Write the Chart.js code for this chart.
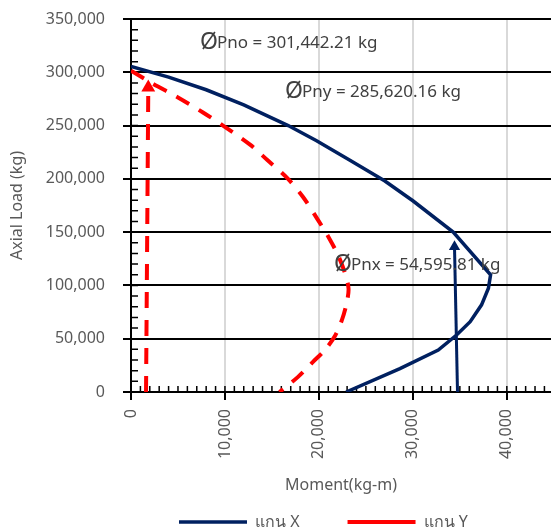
<!DOCTYPE html>
<html>
<head>
<meta charset="utf-8">
<title>Interaction diagram</title>
<script src="https://cdn.jsdelivr.net/npm/chart.js@4/dist/chart.umd.min.js"></script>
<style>
  html, body { margin: 0; padding: 0; background: #fff; overflow: hidden; }
  canvas { display: block; }
</style>
</head>
<body>
<canvas id="pmChart" width="551" height="530"></canvas>
<script>
// legend names
const seriesNames = ['แกน X', 'แกน Y'];

// curve about X : moment (kg-m) / axial load (kg)
const momentX = [0, 4000, 8000, 12000, 16730, 19750, 23300, 27020, 30030, 34290, 38270, 38040, 37310, 36100, 34650, 32700, 28620, 22900];
const loadX   = [305500, 295500, 283600, 269500, 250000, 235800, 217500, 198000, 179200, 150000, 110000, 97400, 81800, 66000, 53500, 39300, 22000, 0];

// curve about Y
const momentY = [0, 2340, 5000, 7660, 9790, 12670, 14480, 16610, 18310, 19910, 20970, 22040, 22780, 23150, 22990, 22460, 21720, 20650, 19370, 17780, 15800];
const loadY   = [301442, 289200, 276400, 262300, 250000, 232100, 217900, 200900, 183000, 161300, 146200, 128300, 111300, 97200, 84900, 67900, 52800, 39600, 28300, 14200, 0];

// arrows from the moment axis up to the design load
const arrowXMoment = [34750, 34430];
const arrowXLoad   = [0, 136300];
const arrowYMoment = [1600, 1840];
const arrowYLoad   = [0, 285620.16];

// notes written on the plot
const notePrefix = 'Ø';
const noteTexts  = ['Pno = 301,442.21 kg', 'Pny = 285,620.16 kg', 'Pnx = 54,595.81 kg'];
const noteMoment = [7350, 16400, 21600];
const noteLoad   = [322400, 276700, 114800];

// axis ticks
const xTicks = [0, 10000, 20000, 30000, 40000];
const yTicks = [0, 50000, 100000, 150000, 200000, 250000, 300000, 350000];
const xMinorStep = 1000;
const yMinorStep = 10000;

const NAVY = '#002060';
const RED = '#ff0000';
const FONT = '"Noto Sans", "DejaVu Sans", sans-serif';

function toPoints(xs, ys) {
  return xs.map((v, i) => ({x: v, y: ys[i]}));
}

// small inside ticks (excel style minor ticks)
const minorTicks = {
  id: 'minorTicks',
  beforeDatasetsDraw(chart) {
    const {ctx, chartArea: a, scales: {x, y}} = chart;
    ctx.save();
    ctx.strokeStyle = '#000';
    ctx.lineWidth = 1.5;
    ctx.beginPath();
    for (let v = 0; v <= x.max; v += xMinorStep) {
      const px = x.getPixelForValue(v);
      ctx.moveTo(px, a.bottom);
      ctx.lineTo(px, a.bottom - 6);
    }
    for (let v = 0; v <= y.max; v += yMinorStep) {
      const py = y.getPixelForValue(v);
      ctx.moveTo(a.left, py);
      ctx.lineTo(a.left + 7, py);
    }
    ctx.stroke();
    ctx.restore();
  }
};

// the three ØP notes
const plotNotes = {
  id: 'plotNotes',
  afterDatasetsDraw(chart) {
    const {ctx, scales: {x, y}} = chart;
    ctx.save();
    ctx.fillStyle = '#404040';
    ctx.textBaseline = 'alphabetic';
    ctx.textAlign = 'left';
    for (let i = 0; i < noteTexts.length; i++) {
      const px = x.getPixelForValue(noteMoment[i]);
      const py = y.getPixelForValue(noteLoad[i]);
      ctx.font = '23px ' + FONT;
      ctx.fillText(notePrefix, px, py + 1);
      const w = ctx.measureText(notePrefix).width;
      ctx.font = '17px ' + FONT;
      ctx.fillText(noteTexts[i], px + w - 1, py);
    }
    ctx.restore();
  }
};

const ctx = document.getElementById('pmChart').getContext('2d');
const chart = new Chart(ctx, {
  type: 'scatter',
  data: {
    datasets: [
      {
        label: seriesNames[0],
        data: toPoints(momentX, loadX),
        showLine: true,
        borderColor: NAVY,
        backgroundColor: NAVY,
        borderWidth: 3.5,
        pointRadius: 0,
        tension: 0
      },
      {
        label: seriesNames[1],
        data: toPoints(momentY, loadY),
        showLine: true,
        borderColor: RED,
        backgroundColor: RED,
        borderWidth: 4,
        borderDash: [15, 11],
        pointRadius: 0,
        tension: 0.3
      },
      {
        label: 'arrowX',
        data: toPoints(arrowXMoment, arrowXLoad),
        showLine: true,
        borderColor: NAVY,
        borderWidth: 3,
        pointStyle: 'triangle',
        pointRadius: [0, 6.5],
        pointBackgroundColor: NAVY,
        pointBorderWidth: 0
      },
      {
        label: 'arrowY',
        data: toPoints(arrowYMoment, arrowYLoad),
        showLine: true,
        borderColor: RED,
        borderWidth: 4,
        borderDash: [16, 12],
        pointStyle: 'triangle',
        pointRadius: [0, 8],
        pointBackgroundColor: RED,
        pointBorderWidth: 0
      }
    ]
  },
  options: {
    responsive: false,
    animation: false,
    events: [],
    layout: {
      autoPadding: false,
      padding: { top: 19, right: 0, left: 0, bottom: -10 }
    },
    font: { family: FONT },
    scales: {
      x: {
        type: 'linear',
        min: 0,
        max: 44700,
        afterBuildTicks: scale => { scale.ticks = xTicks.map(v => ({value: v})); },
        afterFit: scale => {
          scale.height = 74;
          scale.paddingLeft = 0;
          scale.paddingRight = 0;
        },
        grid: {
          color: '#d9d9d9',
          lineWidth: 2,
          tickColor: '#000',
          tickWidth: 2,
          tickLength: 8
        },
        border: { color: '#000', width: 2 },
        ticks: {
          color: '#595959',
          font: { family: FONT, size: 16 },
          minRotation: 90,
          maxRotation: 90,
          padding: 9
        },
        title: {
          display: true,
          text: 'Moment(kg-m)',
          color: '#595959',
          font: { family: FONT, size: 16 },
          padding: { top: 0, bottom: -29 }
        }
      },
      y: {
        type: 'linear',
        min: 0,
        max: 350000,
        afterBuildTicks: scale => { scale.ticks = yTicks.map(v => ({value: v})); },
        afterFit: scale => {
          scale.width = 131;
          scale.paddingTop = 0;
          scale.paddingBottom = 0;
        },
        grid: {
          color: '#000',
          lineWidth: 2,
          tickColor: '#000',
          tickWidth: 2,
          tickLength: 8
        },
        border: { color: '#000', width: 2 },
        ticks: {
          color: '#595959',
          font: { family: FONT, size: 16 },
          padding: 18
        },
        title: {
          display: true,
          text: 'Axial Load (kg)',
          color: '#595959',
          font: { family: FONT, size: 16 },
          padding: { top: 8, bottom: 0 }
        }
      }
    },
    plugins: {
      tooltip: { enabled: false },
      legend: {
        position: 'bottom',
        align: 'start',
        fullSize: false,
        labels: {
          filter: item => item.datasetIndex < 2,
          usePointStyle: true,
          pointStyle: 'line',
          pointStyleWidth: 68,
          color: '#595959',
          font: { family: FONT, size: 16 },
          padding: 48
        }
      }
    }
  },
  plugins: [minorTicks, plotNotes]
});
</script>
</body>
</html>
